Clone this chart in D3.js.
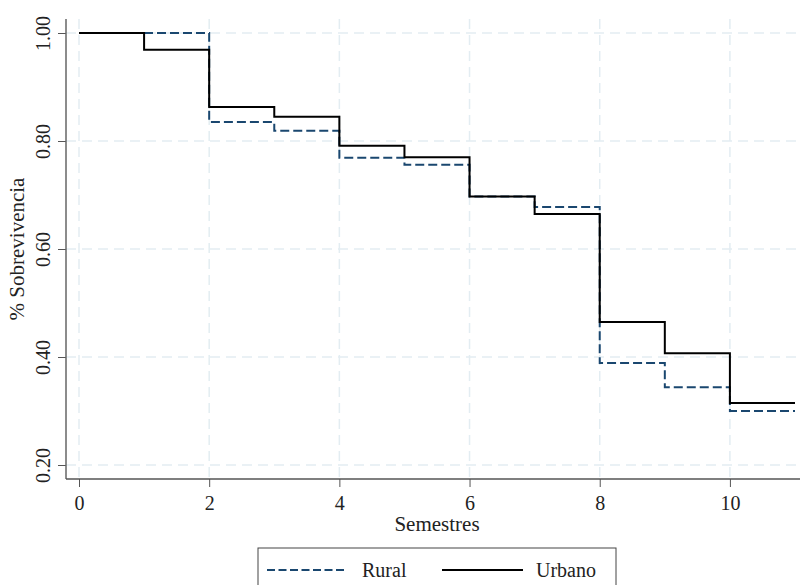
<!DOCTYPE html>
<html>
<head>
<meta charset="utf-8">
<script src="https://cdn.jsdelivr.net/npm/d3@7"></script>
<style>
  body { margin: 0; background: #fff; }
  svg { display: block; font-family: "Liberation Serif", "Times New Roman", serif; }
</style>
</head>
<body>
<div id="chart"></div>
<script>
// survival estimates by semester (step function)
const semestres = [0, 1, 2, 3, 4, 5, 6, 7, 8, 9, 10, 11];
const rural  = [1.000, 1.000, 0.835, 0.819, 0.769, 0.756, 0.697, 0.678, 0.389, 0.344, 0.300, 0.300];
const urbano = [1.000, 0.969, 0.863, 0.845, 0.791, 0.770, 0.697, 0.665, 0.465, 0.407, 0.315, 0.315];
const xTicks = [0, 2, 4, 6, 8, 10];
const yTicks = [0.2, 0.4, 0.6, 0.8, 1.0];

const width = 800;
const height = 585;

const x = d3.scaleLinear().domain([0, 11]).range([79, 795]);
const y = d3.scaleLinear().domain([0.2, 1.0]).range([465, 33]);

const plotLeft = 66, plotRight = 800, plotTop = 19, plotBottom = 479;

const svg = d3.select("#chart")
  .append("svg")
  .attr("width", width)
  .attr("height", height);

// grid
const gridColor = "#e3edf2";
svg.append("g")
  .selectAll("line")
  .data(yTicks)
  .join("line")
  .attr("x1", plotLeft)
  .attr("x2", plotRight)
  .attr("y1", d => y(d))
  .attr("y2", d => y(d))
  .attr("stroke", gridColor)
  .attr("stroke-width", 1.5)
  .attr("stroke-dasharray", "10,6");

svg.append("g")
  .selectAll("line")
  .data(xTicks)
  .join("line")
  .attr("x1", d => x(d))
  .attr("x2", d => x(d))
  .attr("y1", plotTop)
  .attr("y2", plotBottom)
  .attr("stroke", gridColor)
  .attr("stroke-width", 1.5)
  .attr("stroke-dasharray", "10,6");

// axes
const yAxis = svg.append("g")
  .attr("transform", `translate(${plotLeft},0)`)
  .call(d3.axisLeft(y).tickValues(yTicks).tickFormat(d3.format(".2f")).tickSize(8).tickSizeOuter(0));
yAxis.select(".domain").remove();
yAxis.selectAll(".tick line").attr("stroke", "#555");
yAxis.selectAll(".tick text")
  .attr("x", 0)
  .attr("dy", 0)
  .attr("text-anchor", "middle")
  .attr("transform", "translate(-16,0) rotate(-90)")
  .attr("font-family", "Liberation Serif")
  .attr("font-size", 20)
  .attr("fill", "#222");

const xAxis = svg.append("g")
  .attr("transform", `translate(0,${plotBottom})`)
  .call(d3.axisBottom(x).tickValues(xTicks).tickFormat(d3.format("d")).tickSize(8).tickSizeOuter(0));
xAxis.select(".domain").remove();
xAxis.selectAll(".tick line").attr("stroke", "#555");
xAxis.selectAll(".tick text")
  .attr("y", 31)
  .attr("dy", 0)
  .attr("font-family", "Liberation Serif")
  .attr("font-size", 20)
  .attr("fill", "#222");

svg.append("line")
  .attr("x1", plotLeft).attr("x2", plotLeft)
  .attr("y1", plotTop).attr("y2", plotBottom)
  .attr("stroke", "#666")
  .attr("stroke-width", 1.5);

svg.append("line")
  .attr("x1", plotLeft).attr("x2", plotRight)
  .attr("y1", plotBottom).attr("y2", plotBottom)
  .attr("stroke", "#555")
  .attr("stroke-width", 1.5);

// axis titles
svg.append("text")
  .attr("x", x(5.5))
  .attr("y", 531)
  .attr("text-anchor", "middle")
  .attr("font-size", 21)
  .attr("fill", "#222")
  .text("Semestres");

svg.append("text")
  .attr("transform", `translate(24,${y(0.6)}) rotate(-90)`)
  .attr("text-anchor", "middle")
  .attr("font-size", 21)
  .attr("fill", "#222")
  .text("% Sobrevivencia");

// survival curves
const line = d3.line()
  .x(d => x(d[0]))
  .y(d => y(d[1]))
  .curve(d3.curveStepAfter);

svg.append("path")
  .datum(semestres.map((s, i) => [s, rural[i]]))
  .attr("d", line)
  .attr("fill", "none")
  .attr("stroke", "#1a476f")
  .attr("stroke-width", 2)
  .attr("stroke-dasharray", "9,4");

svg.append("path")
  .datum(semestres.map((s, i) => [s, urbano[i]]))
  .attr("d", line)
  .attr("fill", "none")
  .attr("stroke", "#000")
  .attr("stroke-width", 2);

// legend
const legend = svg.append("g");
legend.append("rect")
  .attr("x", 258)
  .attr("y", 548)
  .attr("width", 358)
  .attr("height", 60)
  .attr("fill", "#fff")
  .attr("stroke", "#444")
  .attr("stroke-width", 1);

legend.append("line")
  .attr("x1", 267).attr("x2", 347)
  .attr("y1", 570).attr("y2", 570)
  .attr("stroke", "#1a476f")
  .attr("stroke-width", 2)
  .attr("stroke-dasharray", "8,3.5");

legend.append("text")
  .attr("x", 362)
  .attr("y", 577)
  .attr("font-size", 20)
  .attr("fill", "#222")
  .text("Rural");

legend.append("line")
  .attr("x1", 442).attr("x2", 523)
  .attr("y1", 570).attr("y2", 570)
  .attr("stroke", "#000")
  .attr("stroke-width", 2);

legend.append("text")
  .attr("x", 536)
  .attr("y", 577)
  .attr("font-size", 20)
  .attr("fill", "#222")
  .text("Urbano");
</script>
</body>
</html>
